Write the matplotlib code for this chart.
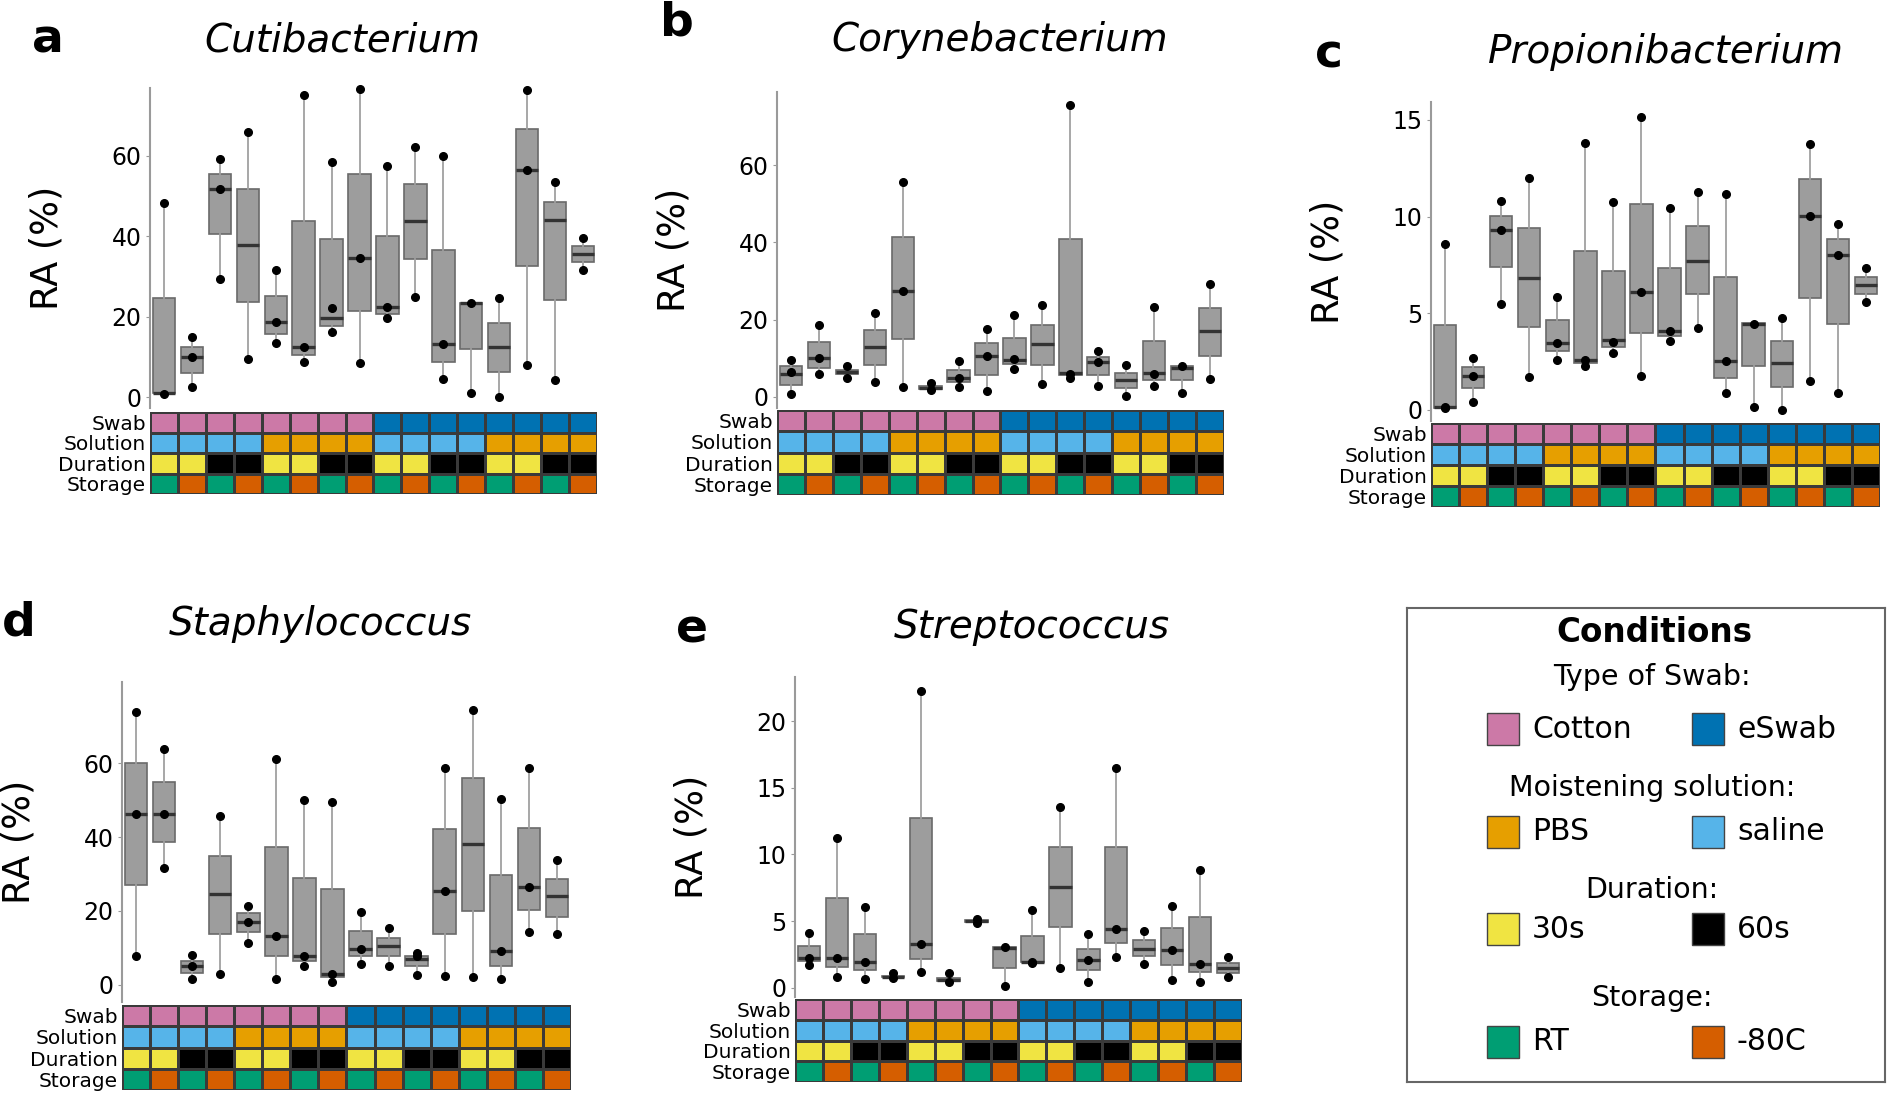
import numpy as np
import matplotlib
matplotlib.use('Agg')
import matplotlib.pyplot as plt
from matplotlib.colors import ListedColormap
from matplotlib.patches import Rectangle

# ---- condicoes das 16 amostras ----
swab = ['Cotton', 'Cotton', 'Cotton', 'Cotton', 'Cotton', 'Cotton', 'Cotton', 'Cotton',
        'eSwab', 'eSwab', 'eSwab', 'eSwab', 'eSwab', 'eSwab', 'eSwab', 'eSwab']
solution = ['saline', 'saline', 'saline', 'saline', 'PBS', 'PBS', 'PBS', 'PBS',
            'saline', 'saline', 'saline', 'saline', 'PBS', 'PBS', 'PBS', 'PBS']
duration = ['30s', '30s', '60s', '60s', '30s', '30s', '60s', '60s',
            '30s', '30s', '60s', '60s', '30s', '30s', '60s', '60s']
storage = ['RT', '-80C', 'RT', '-80C', 'RT', '-80C', 'RT', '-80C',
           'RT', '-80C', 'RT', '-80C', 'RT', '-80C', 'RT', '-80C']
row_labels = ['Swab', 'Solution', 'Duration', 'Storage']

cond_colors = {'Cotton': '#CC79A7', 'eSwab': '#0072B2',
               'PBS': '#E69F00', 'saline': '#56B4E9',
               '30s': '#F0E442', '60s': '#000000',
               'RT': '#009E73', '-80C': '#D55E00'}

# ---- a: Cutibacterium ----
cuti_q1 = [1.1, 5.9, 40.5, 23.7, 15.7, 10.6, 17.7, 21.4, 20.8, 34.3, 8.8, 12.1, 6.2, 32.5, 24.2, 33.6]
cuti_med = [1.1, 9.9, 51.7, 37.8, 18.8, 12.5, 19.75, 34.7, 22.3, 43.7, 13.1, 23.3, 12.4, 56.4, 44.0, 35.7]
cuti_q3 = [24.7, 12.5, 55.4, 51.8, 25.1, 43.7, 39.3, 55.4, 40.1, 52.9, 36.6, 23.5, 18.5, 66.6, 48.6, 37.6]
cuti_pts = [[0.9, 48.4], [2.4, 9.9, 15.0], [29.5, 51.7, 59.2], [9.6, 65.9], [13.4, 18.8, 31.6],
            [8.8, 12.5, 75.1], [16.1, 22.2, 58.6], [8.4, 34.7, 76.6], [19.6, 22.5, 57.5], [24.8, 62.3],
            [4.5, 13.1, 60.1], [1.1, 23.5], [0.1, 24.7], [8.1, 56.4, 76.5], [4.3, 53.4], [31.7, 39.5]]

# ---- b: Corynebacterium ----
cory_q1 = [3.1, 7.6, 6.0, 8.3, 15.1, 2.0, 3.9, 5.7, 8.6, 8.4, 5.8, 5.7, 2.3, 4.3, 4.5, 10.5]
cory_med = [6.0, 10.0, 6.4, 12.9, 27.3, 2.4, 4.8, 10.6, 9.5, 13.6, 6.3, 9.0, 4.5, 6.2, 7.6, 17.1]
cory_q3 = [8.0, 14.2, 6.9, 17.3, 41.5, 2.8, 7.0, 14.0, 15.3, 18.6, 40.9, 10.3, 6.2, 14.5, 7.9, 22.9]
cory_pts = [[0.9, 6.5, 9.5], [6.0, 10.0, 18.7], [5.0, 8.0], [3.9, 21.8], [2.6, 27.3, 55.5],
            [1.8, 3.6], [2.6, 5.0, 9.3], [1.5, 10.6, 17.6], [7.3, 9.7, 21.2], [3.3, 23.7],
            [5.0, 6.0, 75.5], [2.8, 9.1, 11.9], [0.2, 8.4], [2.8, 5.9, 23.3], [1.0, 8.1], [4.6, 29.2]]

# ---- c: Propionibacterium ----
prop_q1 = [0.12, 1.12, 7.4, 4.28, 3.05, 2.45, 3.28, 3.97, 3.83, 5.98, 1.64, 2.29, 1.21, 5.78, 4.45, 6.0]
prop_med = [0.17, 1.78, 9.3, 6.84, 3.45, 2.59, 3.62, 6.12, 4.1, 7.72, 2.55, 4.43, 2.41, 10.05, 8.02, 6.47]
prop_q3 = [4.4, 2.2, 10.05, 9.4, 4.66, 8.22, 7.19, 10.66, 7.33, 9.52, 6.9, 4.48, 3.57, 11.93, 8.84, 6.9]
prop_pts = [[0.08, 0.17, 8.57], [0.43, 1.78, 2.7], [5.47, 9.3, 10.8], [1.72, 12.0], [2.59, 3.45, 5.86],
            [2.29, 2.59, 13.8], [2.97, 3.53, 10.78], [1.78, 6.12, 15.14], [3.59, 4.1, 10.47], [4.22, 11.29],
            [0.86, 2.55, 11.17], [0.17, 4.43], [0.02, 4.78], [1.5, 10.05, 13.74], [0.9, 8.02, 9.62], [5.6, 7.33]]

# ---- d: Staphylococcus ----
staph_q1 = [27.0, 38.7, 3.2, 13.8, 14.2, 7.7, 6.5, 2.1, 7.8, 7.8, 5.1, 13.8, 20.1, 5.1, 20.4, 18.4]
staph_med = [46.1, 46.2, 5.0, 24.6, 17.1, 13.3, 7.8, 3.0, 9.7, 10.5, 6.9, 25.4, 38.2, 9.2, 26.5, 24.0]
staph_q3 = [60.1, 54.8, 6.5, 34.9, 19.4, 37.2, 28.8, 25.9, 14.7, 12.8, 7.8, 42.2, 56.0, 29.7, 42.5, 28.6]
staph_pts = [[7.8, 46.1, 73.9], [31.7, 46.2, 63.8], [1.5, 5.0, 8.1], [3.0, 45.7], [11.3, 17.1, 21.4],
             [1.5, 13.3, 61.0], [5.1, 7.8, 50.0], [0.9, 3.0, 49.4], [5.7, 9.7, 19.6], [5.1, 15.5],
             [2.7, 7.9, 8.6], [2.4, 25.4, 58.7], [2.1, 74.2], [1.6, 9.2, 50.2], [14.4, 26.5, 58.6], [13.8, 33.7]]

# ---- e: Streptococcus ----
strep_q1 = [2.03, 1.58, 1.35, 0.8, 2.16, 0.5, 4.96, 1.53, 1.92, 4.54, 1.31, 3.33, 2.37, 1.74, 1.19, 1.14]
strep_med = [2.28, 2.28, 1.95, 0.85, 3.28, 0.6, 5.04, 2.96, 1.98, 7.59, 2.07, 4.42, 2.95, 2.83, 1.82, 1.52]
strep_q3 = [3.11, 6.74, 4.04, 0.9, 12.76, 0.78, 5.1, 3.03, 3.91, 10.55, 2.95, 10.53, 3.59, 4.47, 5.3, 1.87]
strep_pts = [[1.73, 2.28, 4.09], [0.85, 2.28, 11.23], [0.65, 1.95, 6.09], [0.73, 1.1], [1.2, 3.28, 22.26],
             [0.45, 1.1], [4.86, 5.16], [0.15, 3.03], [1.9, 1.98, 5.86], [1.48, 13.56],
             [0.48, 2.07, 4.02], [2.32, 4.42, 16.46], [1.77, 4.27], [0.63, 2.83, 6.11], [0.48, 1.82, 8.84], [0.81, 2.32]]

W, H = 1890, 1094
fig = plt.figure(figsize=(W / 100, H / 100), dpi=100)
plt.rcParams['font.family'] = ['DejaVu Sans']


def px_axes(x0, y0, x1, y1):
    # eixos posicionados em pixels da figura (origem no topo)
    return fig.add_axes([x0 / W, 1 - y1 / H, (x1 - x0) / W, (y1 - y0) / H])


names = list(cond_colors)
cmap = ListedColormap(list(cond_colors.values()))


def painel(letra, titulo, q1, med, q3, pts, ticks, ylim, box, hm_y, letra_xy, tit_xy):
    x0, y0, x1, y1 = box
    ax = px_axes(x0, y0, x1, y1)
    stats = []
    for a, m, b, p in zip(q1, med, q3, pts):
        stats.append({'q1': a, 'med': m, 'q3': b, 'whislo': min(p), 'whishi': max(p), 'fliers': []})
    ax.bxp(stats, positions=range(len(stats)), widths=0.8, patch_artist=True, showcaps=False,
           boxprops=dict(facecolor='#9d9d9d', edgecolor='#6a6a6a', linewidth=1.2),
           medianprops=dict(color='#333333', linewidth=2.4),
           whiskerprops=dict(color='#a0a0a0', linewidth=1.3))
    for i, p in enumerate(pts):
        ax.plot([i] * len(p), p, 'o', color='black', ms=5.5, zorder=4, clip_on=False)
    ax.set_xlim(-0.5, len(stats) - 0.5)
    ax.set_ylim(*ylim)
    ax.set_yticks(ticks)
    ax.set_xticks([])
    ax.tick_params(axis='y', labelsize=17, length=3, color='#999999', pad=3)
    for s in ['top', 'right', 'bottom']:
        ax.spines[s].set_visible(False)
    ax.spines['left'].set_color('#9a9a9a')
    ax.spines['left'].set_linewidth(1.5)
    ax.text(-103 / (x1 - x0), 0.5, 'RA (%)', transform=ax.transAxes, rotation=90,
            ha='center', va='center', fontsize=26.5)

    # faixa de condicoes
    hm = px_axes(x0, hm_y[0], x1, hm_y[1])
    rows = [swab, solution, duration, storage]
    codes = np.array([[names.index(v) for v in r] for r in rows])
    hm.pcolormesh(codes, cmap=cmap, vmin=-0.5, vmax=len(names) - 0.5,
                  edgecolors='#3a3a3a', linewidth=0.8)
    hm.set_xlim(0, len(swab))
    hm.set_ylim(len(rows), 0)
    hm.set_xticks([])
    hm.set_yticks(np.arange(len(rows)) + 0.5, row_labels)
    hm.tick_params(axis='y', length=0, labelsize=14.5, pad=3)
    for s in hm.spines.values():
        s.set_visible(False)

    fig.text(letra_xy[0] / W, 1 - letra_xy[1] / H, letra, fontsize=34, fontweight='bold',
             ha='center', va='center')
    fig.text(tit_xy[0] / W, 1 - tit_xy[1] / H, titulo, fontsize=28, style='italic',
             ha='center', va='center')


painel('a', 'Cutibacterium', cuti_q1, cuti_med, cuti_q3, cuti_pts, [0, 20, 40, 60],
       (-2.7, 76.9), (150, 88, 597, 408), (412, 494), (48, 40), (342, 40))
painel('b', 'Corynebacterium', cory_q1, cory_med, cory_q3, cory_pts, [0, 20, 40, 60],
       (-2.85, 78.9), (777, 92, 1224, 408), (410, 495), (677, 23), (1000, 40))
painel('c', 'Propionibacterium', prop_q1, prop_med, prop_q3, prop_pts, [0, 5, 10, 15],
       (-0.57, 15.93), (1431, 102, 1880, 421), (423, 507), (1329, 55), (1666, 52))
painel('d', 'Staphylococcus', staph_q1, staph_med, staph_q3, staph_pts, [0, 20, 40, 60],
       (-4.6, 81.9), (122, 682, 571, 1002), (1005, 1090), (19, 623), (320, 624))
painel('e', 'Streptococcus', strep_q1, strep_med, strep_q3, strep_pts, [0, 5, 10, 15, 20],
       (-0.68, 23.3), (795, 677, 1242, 997), (999, 1082), (692, 630), (1032, 627))

# ---- legenda ----
leg = px_axes(1407, 608, 1885, 1082)
leg.set_xlim(0, 478)
leg.set_ylim(474, 0)
leg.set_xticks([])
leg.set_yticks([])
for s in leg.spines.values():
    s.set_color('#666666')
    s.set_linewidth(1.5)

leg.text(247, 25, 'Conditions', fontsize=23.5, fontweight='bold', ha='center', va='center')
grupos = [('Type of Swab:', 'Cotton', 'eSwab', 69, 121),
          ('Moistening solution:', 'PBS', 'saline', 180, 224),
          ('Duration:', '30s', '60s', 282, 321),
          ('Storage:', 'RT', '-80C', 390, 434)]
for cab, c1, c2, yc, yr in grupos:
    leg.text(245, yc, cab, fontsize=20.5, ha='center', va='center')
    for xs, nome in [(80, c1), (285, c2)]:
        leg.add_patch(Rectangle((xs, yr - 16), 32, 32, facecolor=cond_colors[nome],
                                edgecolor='#444444', linewidth=1))
        leg.text(xs + 45, yr, nome, fontsize=21.5, ha='left', va='center')

fig.savefig('out.png', dpi=100)
